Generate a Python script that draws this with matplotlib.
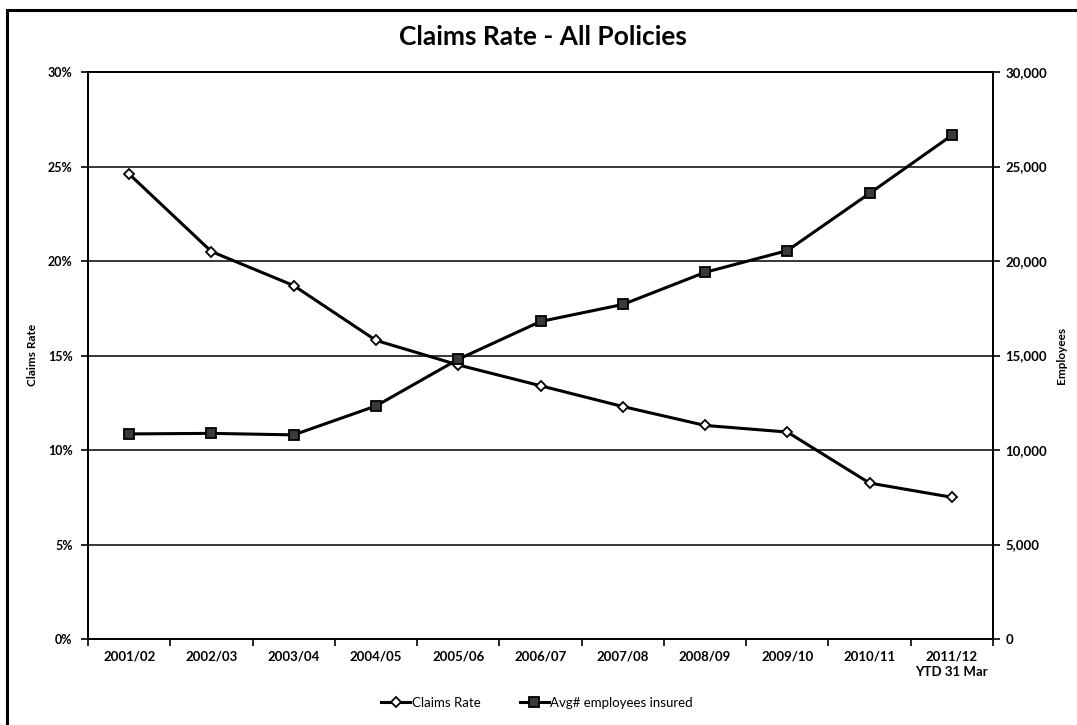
import matplotlib
matplotlib.use("Agg")
import matplotlib.pyplot as plt
from matplotlib.patches import Rectangle
from matplotlib.ticker import FuncFormatter, FixedLocator, NullFormatter

plt.rcParams['font.family'] = ['Lato', 'DejaVu Sans']

years = ["2001/02", "2002/03", "2003/04", "2004/05", "2005/06", "2006/07",
         "2007/08", "2008/09", "2009/10", "2010/11", "2011/12\nYTD 31 Mar"]
claims_rate = [24.6, 20.5, 18.7, 15.8, 14.5, 13.4, 12.3, 11.3, 10.95, 8.25, 7.5]
employees = [10850, 10880, 10800, 12330, 14800, 16800, 17700, 19400, 20550, 23580, 26650]
rate_ticks = [0, 5, 10, 15, 20, 25, 30]
emp_ticks = [0, 5000, 10000, 15000, 20000, 25000, 30000]

W, H = 1077, 725
fig = plt.figure(figsize=(W / 100, H / 100), dpi=100)
fig.patch.set_facecolor("white")

# outer chart frame
fig.patches.append(Rectangle((7 / W, -0.02), 1.1, 1 - 10 / H + 0.02,
                             transform=fig.transFigure, fill=False,
                             edgecolor="black", linewidth=2.2))

ax = fig.add_axes([88 / W, 1 - 639 / H, (993 - 88) / W, (639 - 72) / H])
ax2 = ax.twinx()

x = list(range(len(years)))
ax.set_xlim(-0.5, len(years) - 0.5)
ax.set_ylim(0, 30)
ax2.set_ylim(0, 30000)

for v in rate_ticks[1:-1]:
    ax.axhline(v, color="black", linewidth=1.1, zorder=1)

ax.plot(x, claims_rate, color="black", linewidth=2.2, marker="D",
        markersize=5.5, markerfacecolor="white", markeredgecolor="black",
        markeredgewidth=1.3, label="Claims Rate", zorder=3)
ax2.plot(x, employees, color="black", linewidth=2.2, marker="s",
         markersize=7.5, markerfacecolor="#3a3a3a", markeredgecolor="black",
         markeredgewidth=1.3, label="Avg# employees insured", zorder=3)

for a in (ax, ax2):
    for s in a.spines.values():
        s.set_linewidth(1.3)
        s.set_color("black")

# category boundaries carry the tick marks, names sit at the centres
ax.xaxis.set_major_locator(FixedLocator([i - 0.5 for i in range(len(years) + 1)]))
ax.xaxis.set_major_formatter(NullFormatter())
ax.xaxis.set_minor_locator(FixedLocator(x))
ax.set_xticklabels(years, minor=True)
ax.tick_params(axis="x", which="major", direction="out", length=5, width=1.2)
ax.tick_params(axis="x", which="minor", length=0, pad=8, labelsize=9.5)
for t in ax.get_xticklabels(minor=True):
    t.set_fontweight("bold")
    t.set_linespacing(1.4)

ax.set_yticks(rate_ticks)
ax.yaxis.set_major_formatter(FuncFormatter(lambda v, p: f"{v:.0f}%"))
ax.tick_params(axis="y", direction="out", length=5, width=1.2, labelsize=9, pad=6)
ax2.set_yticks(emp_ticks)
ax2.yaxis.set_major_formatter(FuncFormatter(lambda v, p: f"{v:,.0f}"))
ax2.tick_params(axis="y", direction="out", length=5, width=1.2, labelsize=9.5, pad=4)
for t in ax.get_yticklabels() + ax2.get_yticklabels():
    t.set_fontweight("bold")

fig.text(33 / W, 1 - 355 / H, "Claims Rate", rotation=90, ha="center",
         va="center", fontsize=8.5, fontweight="bold")
fig.text(1062 / W, 1 - 355 / H, "Employees", rotation=90, ha="center",
         va="center", fontsize=8.5, fontweight="bold")

fig.text(543 / W, 1 - 37 / H, "Claims Rate - All Policies", ha="center",
         va="center", fontsize=19, fontweight="bold")

h1, l1 = ax.get_legend_handles_labels()
h2, l2 = ax2.get_legend_handles_labels()
fig.legend(h1 + h2, l1 + l2, loc="center", bbox_to_anchor=(537 / W, 1 - 703 / H),
           ncol=2, frameon=False, fontsize=9.5, handlelength=2.2,
           handletextpad=0.1, columnspacing=3.0)

fig.savefig("out.png", dpi=100)
